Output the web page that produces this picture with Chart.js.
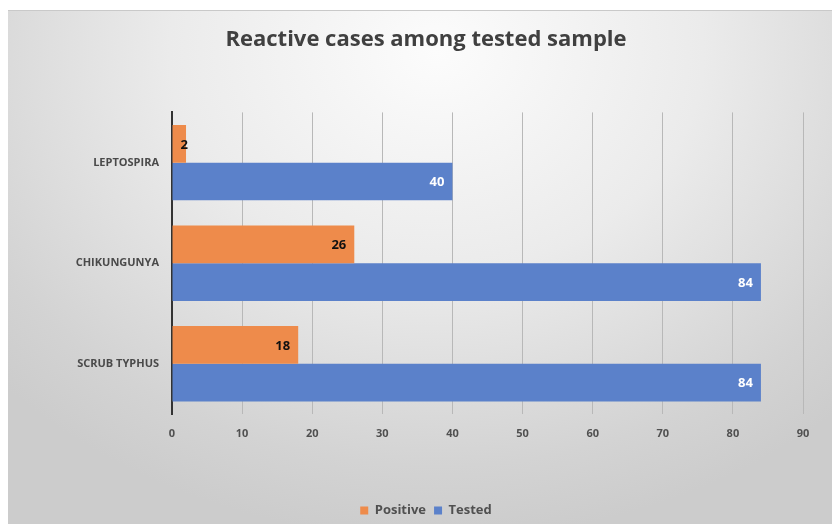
<!DOCTYPE html>
<html>
<head>
<meta charset="utf-8">
<script src="https://cdn.jsdelivr.net/npm/chart.js@4"></script>
<style>
  html, body { margin: 0; padding: 0; background: #fff; overflow: hidden; }
  #panel {
    position: absolute; left: 8px; top: 10px; width: 824px; height: 514px;
    border-top: 1px solid #c9c9c9;
    box-sizing: border-box;
    overflow: hidden;
    background: radial-gradient(ellipse 72% 95% at 52% 8%, #fcfcfc 0%, #ebebeb 45%, #d3d3d3 85%, #cccccc 100%);
  }
  canvas { display: block; }
</style>
</head>
<body>
<div id="panel"><canvas id="chart" width="824" height="516"></canvas></div>
<script>
// === Reactive cases among tested sample ===

const categories = ['LEPTOSPIRA', 'CHIKUNGUNYA', 'SCRUB TYPHUS'];
const positive = [2, 26, 18];
const tested = [40, 84, 84];
const xTicks = [0, 10, 20, 30, 40, 50, 60, 70, 80, 90];

const labelFont = '"Open Sans", "Noto Sans", sans-serif';

// draws the value at the inside end of each bar
const barValues = {
  id: 'barValues',
  afterDatasetsDraw(chart) {
    const ctx = chart.ctx;
    ctx.save();
    chart.data.datasets.forEach((ds, i) => {
      const meta = chart.getDatasetMeta(i);
      meta.data.forEach((bar, j) => {
        const txt = String(ds.data[j]);
        ctx.font = 'bold 13px ' + labelFont;
        ctx.fillStyle = ds.valueColor;
        ctx.textAlign = 'right';
        ctx.textBaseline = 'middle';
        const w = ctx.measureText(txt).width;
        const x = Math.max(bar.x - 8, bar.base + 8 + w);
        ctx.fillText(txt, x, bar.y + 1);
      });
    });
    ctx.restore();
  }
};

const chart = new Chart(document.getElementById('chart').getContext('2d'), {
  type: 'bar',
  data: {
    labels: categories,
    datasets: [
      {
        label: 'Positive',
        data: positive,
        backgroundColor: '#ee8b4b',
        valueColor: '#111111',
        categoryPercentage: 0.75,
        barPercentage: 1.0
      },
      {
        label: 'Tested',
        data: tested,
        backgroundColor: '#5b81ca',
        valueColor: '#ffffff',
        categoryPercentage: 0.75,
        barPercentage: 1.0
      }
    ]
  },
  options: {
    indexAxis: 'y',
    responsive: false,
    animation: false,
    layout: { padding: { left: 41, right: 29, top: 0, bottom: 0 } },
    scales: {
      x: {
        min: 0,
        max: 90,
        afterBuildTicks(scale) {
          scale.ticks = xTicks.map(v => ({ value: v }));
        },
        afterFit(scale) { scale.height = 82; },
        grid: { color: '#b8b8b8', lineWidth: 1, drawTicks: false },
        border: { display: false },
        ticks: {
          padding: 13,
          color: '#505050',
          font: { family: labelFont, size: 11, weight: 'bold' }
        }
      },
      y: {
        afterFit(scale) { scale.width = 123; },
        grid: { display: false, drawTicks: false },
        border: { display: true, color: '#333333', width: 2 },
        ticks: {
          padding: 13,
          color: '#4a4a4a',
          font: { family: labelFont, size: 11, weight: 'bold' }
        }
      }
    },
    plugins: {
      title: {
        display: true,
        text: 'Reactive cases among tested sample',
        color: '#404040',
        font: { family: labelFont, size: 22, weight: 'bold' },
        padding: { top: 16, bottom: 59 }
      },
      legend: {
        position: 'bottom',
        labels: {
          boxWidth: 8,
          boxHeight: 8,
          padding: 8,
          color: '#505050',
          font: { family: labelFont, size: 13, weight: 'bold' }
        }
      },
      tooltip: { enabled: false }
    }
  },
  plugins: [barValues]
});
</script>
</body>
</html>
